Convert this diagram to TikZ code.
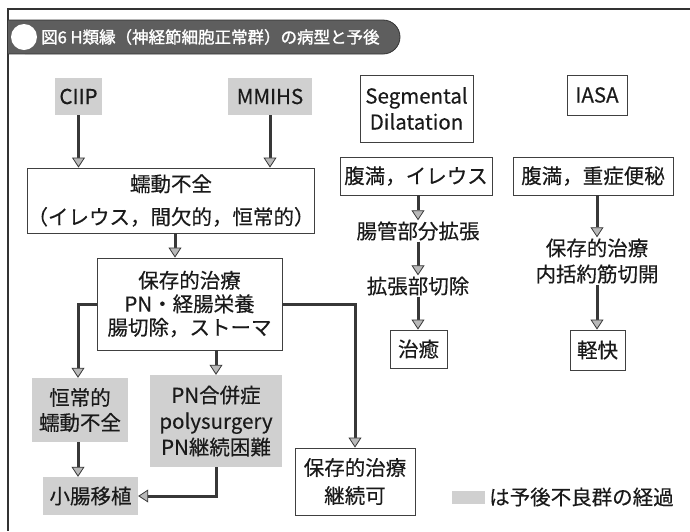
\documentclass[tikz,border=0pt]{standalone}
\usepackage{fontspec}
\setmainfont{Noto Sans CJK JP}[FakeBold=0.35]
\newfontfamily\titlefont{Noto Sans CJK JP}[FakeBold=1.4]
\usetikzlibrary{arrows.meta,calc}
\definecolor{ink}{HTML}{1A1A1A}
\definecolor{bar}{HTML}{5E5E5E}
\definecolor{lgray}{HTML}{D0D0D0}
\definecolor{arr}{HTML}{383838}
\tikzset{
  box/.style={draw=black!75, line width=0.9pt, fill=white, inner sep=0pt, align=center, text=ink,
              font=\fontsize{20.5}{26}\selectfont},
  gbox/.style={fill=lgray, inner sep=0pt, align=center, text=ink, font=\fontsize{20.5}{26}\selectfont},
  plain/.style={inner sep=1pt, align=center, text=ink, font=\fontsize{20.5}{26}\selectfont},
  flow/.style={draw=arr, line width=3pt, -{Triangle[width=13pt,length=10pt,fill=gray!55,line width=0.8pt]}},
}
\begin{document}
\begin{tikzpicture}[x=1pt,y=-1pt]
\useasboundingbox (0,0) rectangle (690,531);
% frame
\draw[line width=1.3pt, black!80] (690,9) -- (8,9) -- (8,531);
% title bar
\fill[bar, rounded corners=17pt] (8,20) rectangle (400,54);
\fill[bar] (8,20) rectangle (40,54);
\draw[black!80, line width=0.8pt, rounded corners=17pt] (8,20) -- (400,20) -- (400,54) -- (8,54);
\fill[white] (24,37) circle (13);
\node[anchor=west, text=white, font=\titlefont\fontsize{16.5}{20}\selectfont, inner sep=0pt] (title) at (41,37) {図6 H類縁（神経節細胞正常群）の病型と予後};

% left column
\node[gbox, minimum width=47, minimum height=37] (ciip) at (78.5,96.5) {CIIP};
\node[gbox, minimum width=84, minimum height=37] (mmihs) at (270,96.5) {MMIHS};
\node[box, minimum width=282, minimum height=65, font=\fontsize{20.5}{33}\selectfont] (motil) at (171,200.5) {蠕動不全\\（イレウス，間欠的，恒常的）};
\node[box, minimum width=185, minimum height=92, font=\fontsize{20.5}{23.5}\selectfont] (cons) at (189.5,304) {保存的治療\\PN・経腸栄養\\腸切除，ストーマ};
\node[gbox, minimum width=96, minimum height=64, font=\fontsize{20.5}{25}\selectfont] (chronic) at (80,410) {恒常的\\蠕動不全};
\node[gbox, minimum width=132, minimum height=92] (pncomp) at (216,421) {PN合併症\\polysurgery\\PN継続困難};
\node[gbox, minimum width=95, minimum height=38] (sbt) at (90.5,496) {小腸移植};
\node[box, minimum width=120, minimum height=67, font=\fontsize{20.5}{28}\selectfont] (cont) at (355,481.5) {保存的治療\\継続可};

% segmental column
\node[box, minimum width=113, minimum height=67] (seg) at (416.5,108.5) {Segmental\\Dilatation};
\node[box, minimum width=152, minimum height=38] (ileus) at (416,176) {腹満，イレウス};
\node[plain] (dil) at (418,231) {腸管部分拡張};
\node[plain] (res) at (418,286) {拡張部切除};
\node[box, minimum width=57, minimum height=38] (cure) at (418.5,349) {治癒};

% IASA column
\node[box, minimum width=60, minimum height=40] (iasa) at (597,95) {IASA};
\node[box, minimum width=160, minimum height=38] (constip) at (593,176) {腹満，重症便秘};
\node[plain] (iasatx) at (597,261) {保存的治療\\内括約筋切開};
\node[box, minimum width=55, minimum height=40] (kai) at (597.5,350) {軽快};

% legend
\node[fill=lgray, minimum width=33, minimum height=13, inner sep=0pt] (swatch) at (468.5,497) {};
\node[plain, anchor=west, inner sep=0pt] (legend) at (489,497) {は予後不良群の経過};

% connectors
\draw[flow] (ciip.south) -- (ciip.south |- motil.north);
\draw[flow] (mmihs.south) -- (mmihs.south |- motil.north);
\draw[flow] ([xshift=4pt]motil.south) -- ([xshift=4pt]motil.south |- cons.north);
\draw[flow] (cons.west) -| ([xshift=-2pt]chronic.north);
\draw[flow] (cons.south -| pncomp.north) -- (pncomp.north);
\draw[flow] (cons.east) -| (cont.north);
\draw[flow] ([xshift=-2pt]chronic.south) -- ([xshift=-2pt]chronic.south |- sbt.north);
\draw[flow] (pncomp.south) |- (sbt.east);
\draw[flow] (dil.north |- ileus.south) -- (dil.north);
\draw[flow] (dil.south) -- (res.north);
\draw[flow] (res.south) -- (res.south |- cure.north);
\draw[flow] (iasatx.north |- constip.south) -- (iasatx.north);
\draw[flow] (iasatx.south) -- (iasatx.south |- kai.north);
\end{tikzpicture}
\end{document}
